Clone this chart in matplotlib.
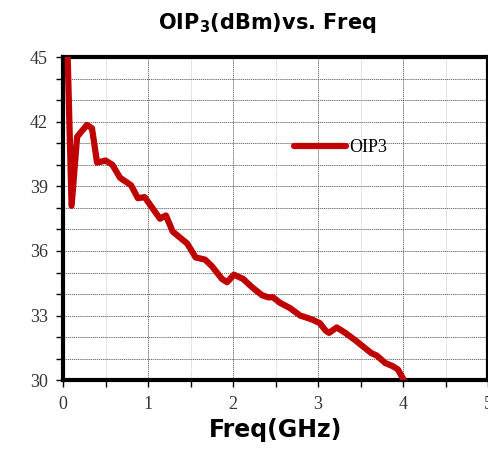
import matplotlib.pyplot as plt
from matplotlib.ticker import MultipleLocator

freq = [0.05, 0.10, 0.165, 0.28, 0.34, 0.40, 0.50, 0.58, 0.67, 0.80, 0.88, 0.96,
        1.05, 1.14, 1.21, 1.29, 1.46, 1.56, 1.67, 1.75, 1.87, 1.93, 2.01, 2.12,
        2.20, 2.26, 2.34, 2.41, 2.47, 2.55, 2.67, 2.79, 2.87, 2.94, 3.02, 3.09,
        3.13, 3.22, 3.32, 3.44, 3.55, 3.63, 3.69, 3.79, 3.88, 3.94, 4.01]
oip3 = [45.6, 38.1, 41.3, 41.85, 41.7, 40.1, 40.2, 40.0, 39.4, 39.05, 38.45, 38.5,
        38.0, 37.5, 37.65, 36.9, 36.35, 35.7, 35.6, 35.3, 34.7, 34.55, 34.9, 34.7,
        34.4, 34.2, 33.95, 33.85, 33.85, 33.6, 33.35, 33.0, 32.9, 32.8, 32.65, 32.3,
        32.2, 32.45, 32.2, 31.85, 31.5, 31.25, 31.15, 30.8, 30.65, 30.5, 30.0]

xticks = [0, 1, 2, 3, 4, 5]
yticks = [30, 33, 36, 39, 42, 45]

fig = plt.figure(figsize=(4.89, 4.57), dpi=100, facecolor='white')
ax = fig.add_axes([0.129, 0.168, 0.869, 0.707])

ax.plot(freq, oip3, color='#c00000', lw=4.5, solid_joinstyle='round',
        solid_capstyle='round', label='OIP3', zorder=5)

ax.set_xlim(0, 5)
ax.set_ylim(30, 45)
ax.set_xticks(xticks)
ax.set_yticks(yticks)
ax.xaxis.set_minor_locator(MultipleLocator(0.5))
ax.yaxis.set_minor_locator(MultipleLocator(1))

ax.grid(True, which='major', axis='x', color='#555555', ls=(0, (1.5, 1)), lw=0.6)
ax.grid(True, which='minor', axis='x', color='#cccccc', ls=(0, (1.5, 1)), lw=0.6)
ax.grid(True, which='both', axis='y', color='#555555', ls=(0, (1.5, 1)), lw=0.6)

for s in ax.spines.values():
    s.set_linewidth(3)
    s.set_color('black')

ax.tick_params(which='both', direction='out', length=5, width=1, color='black')
ax.tick_params(axis='both', which='major', labelsize=13, pad=6)
for lab in ax.get_xticklabels() + ax.get_yticklabels():
    lab.set_family('Liberation Serif')
    lab.set_color('#333333')

ax.set_title('OIP$_\\mathregular{3}$(dBm)vs. Freq', fontsize=15, fontweight='bold',
             pad=20, x=0.48)
ax.set_xlabel('Freq(GHz)', fontsize=17, fontweight='bold', labelpad=4)

leg = ax.legend(loc='center left', bbox_to_anchor=(0.505, 0.72), frameon=False,
                handlelength=2.9, handletextpad=0.15,
                prop={'family': 'Liberation Serif', 'size': 13})

fig.savefig('out.png', dpi=100, facecolor='white')
